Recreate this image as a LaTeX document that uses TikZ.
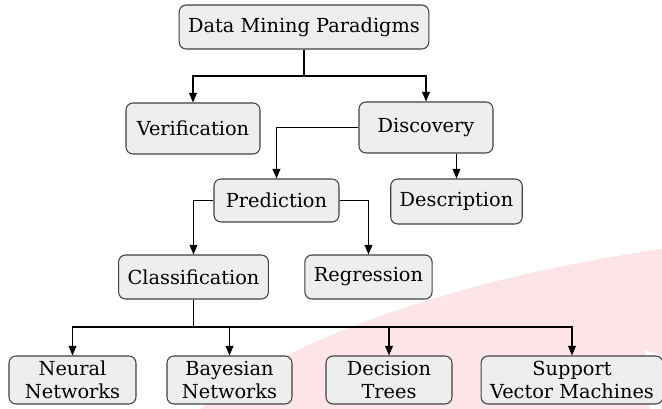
\documentclass[tikz,border=0pt]{standalone}
\usepackage{fontspec}
\setmainfont{DejaVu Serif}
\usetikzlibrary{arrows.meta}
\definecolor{boxfill}{RGB}{238,238,238}
\definecolor{wash}{RGB}{252,228,231}
\begin{document}
\begin{tikzpicture}[
  box/.style={draw=black!75, fill=boxfill, rounded corners=4pt, line width=0.6pt,
    minimum width=2.5cm, minimum height=0.88cm, inner xsep=0.18cm, inner ysep=1pt,
    align=center, font=\fontsize{11}{13}\selectfont},
  arr/.style={draw, line width=0.6pt, -{Triangle[length=5.5pt,width=4.5pt]}}
]
\useasboundingbox (0,0) rectangle (13.24,-8.18);
% background wash
\fill[wash] (4,-8.18) .. controls (6,-6.6) and (9.6,-5.5) .. (13.24,-4.98)
  -- (13.24,-7.12) -- (12.9,-7.0) -- (13.0,-8.18) -- cycle;
% nodes
\node[box] (dmp) at (6.08,-0.54) {Data Mining Paradigms};
\node[box, minimum width=2.68cm, minimum height=1.02cm] (verif) at (3.86,-2.57) {Verification};
\node[box, minimum width=2.68cm, minimum height=1.02cm] (disc) at (8.52,-2.55) {Discovery};
\node[box, minimum height=0.86cm] (pred) at (5.53,-4.01) {Prediction};
\node[box, minimum height=0.9cm] (desc) at (9.13,-4.03) {Description};
\node[box] (class) at (3.87,-5.54) {Classification};
\node[box] (regr) at (7.37,-5.54) {Regression};
\node[box, minimum width=2.54cm, minimum height=0.96cm] (nn) at (1.45,-7.6) {Neural\\Networks};
\node[box, minimum width=2.5cm, minimum height=0.96cm] (bn) at (4.59,-7.6) {Bayesian\\Networks};
\node[box, minimum width=2.52cm, minimum height=0.96cm] (dt) at (7.78,-7.6) {Decision\\Trees};
\node[box, minimum height=0.96cm] (svm) at (11.44,-7.6) {Support\\Vector Machines};
\coordinate (split1) at (6.08,-1.52);
\coordinate (split2) at (3.87,-6.54);
% connectors
\path[draw, line width=0.6pt] (dmp) -- (split1);
\path[arr] (split1) -| (verif);
\path[arr] (split1) -| (disc);
\path[arr] (disc) -| (pred);
\path[arr] (disc.south -| desc.north) -- (desc);
\path[arr] (pred) -| (class);
\path[arr] (pred) -| (regr);
\path[draw, line width=0.6pt] (class) -- (split2);
\path[arr] (split2) -| (nn);
\path[arr] (split2) -| (bn);
\path[arr] (split2) -| (dt);
\path[arr] (split2) -| (svm);
\end{tikzpicture}
\end{document}
